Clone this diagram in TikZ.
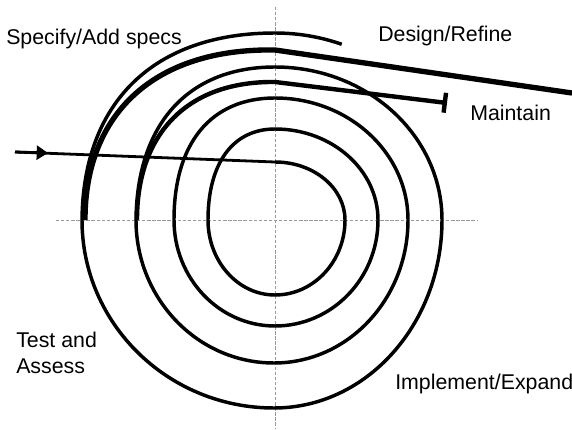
\documentclass[tikz,border=0pt]{standalone}
\usepackage{fontspec}
\setmainfont{Liberation Sans}
\usetikzlibrary{arrows.meta}
\begin{document}
\begin{tikzpicture}[x=0.75pt, y=0.75pt, every node/.style={font=\fontsize{16}{19.5}\selectfont, inner sep=0pt},
  axis/.style={gray!80, line width=0.6pt, dash pattern=on 2.5pt off 1.3pt},
  coil/.style={line width=2.6pt},
  feed/.style={line width=2.1pt}]
\useasboundingbox (0,0) rectangle (572,429);
\draw[axis] (56,209) -- (478,209);
\draw[axis] (275,422) -- (275,0);
\coordinate (entry) at (15,277); \coordinate (tip) at (48,276); \coordinate (start) at (275,267);
\coordinate (farend) at (572,336); \coordinate (stop) at (447,326);
\draw[feed] (entry) -- (start); \draw[feed,-{Triangle[length=8.5pt,width=10.5pt]}] (entry) -- (tip);
\draw[coil] (start) arc[start angle=90,end angle=0,x radius=70,y radius=58] arc[start angle=0,end angle=-90,x radius=70,y radius=75]
  arc[start angle=-90,end angle=-180,x radius=67,y radius=75] .. controls (208,266) and (233,300) .. (275,300)
  arc[start angle=90,end angle=0,x radius=103,y radius=91] arc[start angle=0,end angle=-90,x radius=103,y radius=106]
  arc[start angle=-90,end angle=-180,x radius=101,y radius=106] .. controls (174,286) and (211,331) .. (275,331)
  arc[start angle=90,end angle=0,x radius=133,y radius=122] arc[start angle=0,end angle=-90,x radius=134,y radius=143]
  arc[start angle=-90,end angle=-180,x radius=138,y radius=143] .. controls (137,305) and (188,362) .. (275,362)
  arc[start angle=90,end angle=0,x radius=167,y radius=153] arc[start angle=0,end angle=-90,x radius=168,y radius=188]
  arc[start angle=-90,end angle=-180,x radius=192,y radius=188] .. controls (83,327) and (154,396) .. (275,396)
  arc[start angle=90,end angle=70,x radius=195,y radius=187];
\draw[line width=4pt] (85,209) .. controls (85,316) and (155,381) .. (275,379) -- (farend);
\draw[line width=3.3pt,-{Bar[width=15pt]}] (137,209) .. controls (137,296) and (188,348) .. (275,347) -- (stop);
\node[anchor=base west] (spec) at (6,384) {Specify/Add specs};
\node[anchor=base west] (design) at (378,387) {Design/Refine};
\node[anchor=base west] (maint) at (470,308) {Maintain};
\node[anchor=west, align=left] (test) at (16,76) {Test and\\Assess};
\node[anchor=base west] (impl) at (395,39) {Implement/Expand};
\end{tikzpicture}
\end{document}
